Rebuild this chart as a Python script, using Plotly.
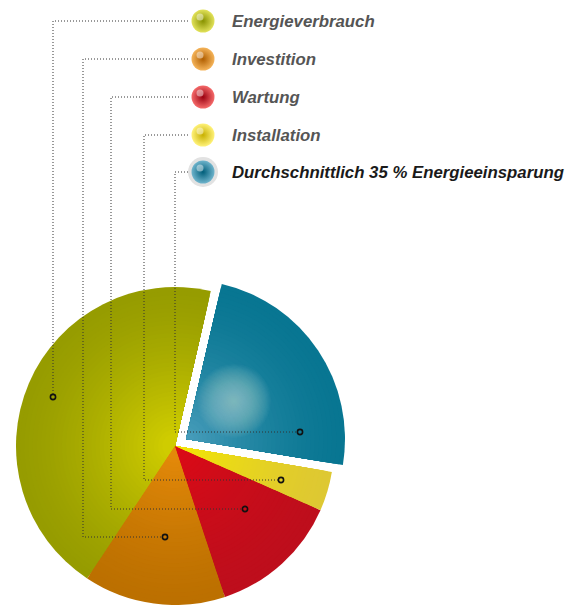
import plotly.graph_objects as go

# ---------------- data ----------------
categories = ["Energieverbrauch", "Investition", "Wartung", "Installation",
              "Durchschnittlich 35 % Energieeinsparung"]
values = [44.3, 14.4, 13.3, 4.0, 24.0]

# ---------------- styles / layout ----------------
W, H = 566, 605
edge_cols = [(150, 156, 0), (188, 112, 0), (190, 14, 28), (222, 200, 50), (8, 118, 146)]
center_cols = [(214, 210, 0), (232, 140, 10), (220, 10, 22), (245, 232, 0), (74, 158, 188)]
sphere_light = ["#e2e25a", "#f5b45a", "#f56a6a", "#fff27a", "#6fb4cc"]
sphere_dark = ["#889200", "#b05e00", "#9a0010", "#c8b000", "#005e7a"]
text_cols = ["#555555", "#555555", "#555555", "#555555", "#1a1a1a"]

PIE_C = (175, 446)      # pie centre (px)
PIE_R = 159             # radius (px)
PULL_OFF = (11, -7)     # offset of the pulled slice (px)
GLOW_C = (234, 401)     # highlight on the pulled slice (px)
GLOW_R = 37
START_ANGLE = 13        # boundary between first and last slice (deg, clockwise from 12 o'clock)
PULLED = 4              # index of the pulled slice

row_y = [21, 59, 97, 135, 172]
sphere_x = 203
text_x = 230
lead_start_x = 188
lead_vx = [53, 83, 111, 144, 175]
lead_end_y = [397, 537, 509, 480, 432]
dot_x = [53, 165, 245, 281, 300]

# plotly puts the first slice clockwise of `rotation` when going counterclockwise
rotation = START_ANGLE - 360.0 * values[0] / sum(values)


def dom(cx, cy, r):
    x0 = max(0.0, (cx - r) / W)
    x1 = min(1.0, (cx + r) / W)
    y0 = max(0.0, 1 - (cy + r) / H)
    y1 = min(1.0, 1 - (cy - r) / H)
    return dict(x=[x0, x1], y=[y0, y1])


def lerp(a, b, t):
    return "rgb(%d,%d,%d)" % tuple(round(a[i] + (b[i] - a[i]) * t) for i in range(3))


fig = go.Figure()

N = 36
# main pie (all but pulled slice), layered for a radial shading
for k in range(N):
    s = 1 - k * (0.92 / (N - 1))
    t = (1 - s) ** 1.4
    cols = []
    for i in range(len(values)):
        if i == PULLED:
            cols.append("rgba(0,0,0,0)")
        else:
            cols.append(lerp(edge_cols[i], center_cols[i], t))
    fig.add_trace(go.Pie(
        labels=categories, values=values, sort=False, direction="counterclockwise",
        rotation=rotation, textinfo="none", hoverinfo="skip", showlegend=False,
        marker=dict(colors=cols, line=dict(width=0)),
        domain=dom(PIE_C[0], PIE_C[1], PIE_R * s)))

# pulled slice (same layering, around its own shifted apex)
ax, ay = PIE_C[0] + PULL_OFF[0], PIE_C[1] + PULL_OFF[1]
for k in range(N):
    s = 1 - k * (0.95 / (N - 1))
    t = (1 - s) ** 1.6
    cols = ["rgba(0,0,0,0)"] * len(values)
    cols[PULLED] = lerp(edge_cols[PULLED], center_cols[PULLED], t)
    fig.add_trace(go.Pie(
        labels=categories, values=values, sort=False, direction="counterclockwise",
        rotation=rotation, textinfo="none", hoverinfo="skip", showlegend=False,
        marker=dict(colors=cols, line=dict(width=0)),
        domain=dom(ax, ay, PIE_R * s)))

# soft highlight on the pulled slice
NG = 32
for k in range(NG):
    r = GLOW_R * (1 - k / NG)
    fig.add_shape(type="circle", xref="x", yref="y", layer="above",
                  x0=GLOW_C[0] - r, x1=GLOW_C[0] + r, y0=GLOW_C[1] - r, y1=GLOW_C[1] + r,
                  fillcolor="rgba(170,204,218,0.045)", line=dict(width=0))

# legend spheres
fig.add_trace(go.Scatter(
    x=[sphere_x], y=[row_y[4]], mode="markers", hoverinfo="skip", showlegend=False,
    marker=dict(size=30, color="#e2e2e2", line=dict(width=0))))
fig.add_trace(go.Scatter(
    x=[sphere_x] * len(categories), y=row_y, mode="markers", hoverinfo="skip",
    showlegend=False,
    marker=dict(size=23, color=sphere_light, line=dict(width=0),
                gradient=dict(type="radial", color=sphere_dark))))
fig.add_trace(go.Scatter(
    x=[sphere_x - 3] * len(categories), y=[y - 4 for y in row_y], mode="markers",
    hoverinfo="skip", showlegend=False,
    marker=dict(size=7, color="rgba(255,255,255,0.45)", line=dict(width=0))))

# legend texts
for i, name in enumerate(categories):
    fig.add_annotation(x=text_x, y=row_y[i], xref="x", yref="y", text=name,
                       showarrow=False, xanchor="left", yanchor="middle",
                       font=dict(family="Liberation Sans, Arial, sans-serif", size=16.8,
                                 color=text_cols[i], weight="bold", style="italic"))

# leader lines and dots
for i in range(len(categories)):
    if dot_x[i] == lead_vx[i]:
        path = "M %s %s H %s V %s" % (lead_start_x, row_y[i], lead_vx[i], lead_end_y[i] - 3)
    else:
        path = "M %s %s H %s V %s H %s" % (lead_start_x, row_y[i], lead_vx[i],
                                           lead_end_y[i], dot_x[i] - 3)
    fig.add_shape(type="path", path=path, xref="x", yref="y", layer="above",
                  line=dict(color="#333333", width=1, dash="1px,2px"))
    fig.add_shape(type="circle", xref="x", yref="y", layer="above",
                  x0=dot_x[i] - 2.6, x1=dot_x[i] + 2.6,
                  y0=lead_end_y[i] - 2.6, y1=lead_end_y[i] + 2.6,
                  line=dict(color="#111111", width=1.6))

fig.update_layout(
    width=W, height=H, margin=dict(l=0, r=0, t=0, b=0),
    paper_bgcolor="white", plot_bgcolor="rgba(0,0,0,0)",
    xaxis=dict(range=[0, W], visible=False, fixedrange=True, domain=[0, 1]),
    yaxis=dict(range=[H, 0], visible=False, fixedrange=True, domain=[0, 1]),
    showlegend=False,
)

fig.write_html("out.html", config=dict(displayModeBar=False),
               post_script="document.body.style.margin='0';document.body.style.overflow='hidden';")
